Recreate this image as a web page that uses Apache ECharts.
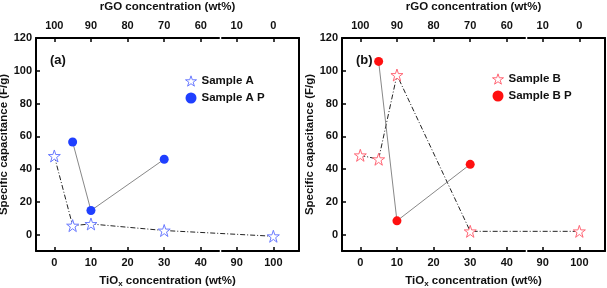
<!DOCTYPE html>
<html><head><meta charset="utf-8">
<script src="https://cdn.jsdelivr.net/npm/echarts@6/dist/echarts.min.js"></script>
<style>html,body{margin:0;padding:0;background:#fff}#c{width:607px;height:288px}</style>
</head><body><div id="c"></div>
<script>
// ---- data ----
const tiTicks = [0, 10, 20, 30, 40, 90, 100];
const rgoLabels = ['100', '90', '80', '70', '60', '10', '0'];
const yTicks = [0, 20, 40, 60, 80, 100, 120];

const xA = [0, 5, 10, 30, 100];
const sampleA = [48, 5.5, 6.5, 2.5, -1];
const xAP = [5, 10, 30];
const sampleAP = [56.5, 14.7, 46];

const xB = [0, 5, 10, 30, 100];
const sampleB = [48.4, 46, 97.4, 2, 2];
const xBP = [5, 10, 30];
const sampleBP = [105.7, 8.4, 42.9];

// ---- styles ----
const FONT = 'Liberation Sans, Arial, sans-serif';
const star = 'path://M50,0 L61.8,35.1 L98.9,35.1 L69.1,56.7 L80.3,91.9 L50,70 L19.7,91.9 L30.9,56.7 L1.1,35.1 L38.2,35.1 Z';
const blueStar = '#6b7bff', blueDot = '#1f3fff', redStar = '#ff6675', redDot = '#ff1010';
const pairs = (xs, ys) => xs.map((x, i) => [x, ys[i]]);

const breaks = [{ start: 45, end: 86, gap: 0.8 }];
const X_MIN = -5, X_MAX = 107, Y_MIN = -10, Y_MAX = 120;
const lbl = { fontFamily: FONT, fontWeight: 'bold', fontSize: 11, color: '#111' };
const lineS = { show: true, onZero: false, lineStyle: { color: '#000', width: 2 } };

function xAxes(gi) {
  return [
    { gridIndex: gi, type: 'value', position: 'bottom', min: X_MIN, max: X_MAX, breaks: breaks,
      breakArea: { itemStyle: { color: 'transparent', borderColor: 'transparent' } },
      axisLine: lineS, splitLine: { show: false },
      axisTick: { inside: true, length: 4, lineStyle: { color: '#000', width: 1.5 }, customValues: tiTicks },
      axisLabel: Object.assign({ margin: 6, customValues: tiTicks }, lbl),
      name: 'TiO{sub|x} concentration (wt%)', nameLocation: 'middle', nameGap: 23,
      nameTextStyle: { fontFamily: FONT, fontWeight: 'bold', fontSize: 11.5, color: '#111',
        rich: { sub: { fontFamily: FONT, fontWeight: 'bold', fontSize: 8, verticalAlign: 'bottom', padding: [6, 0, 0, 0] } } } },
    { gridIndex: gi, type: 'value', position: 'top', min: X_MIN, max: X_MAX, breaks: breaks,
      breakArea: { itemStyle: { color: 'transparent', borderColor: 'transparent' } },
      axisLine: lineS, splitLine: { show: false },
      axisTick: { inside: true, length: 4, lineStyle: { color: '#000', width: 1.5 }, customValues: tiTicks },
      axisLabel: Object.assign({ margin: 7, customValues: tiTicks,
        formatter: v => rgoLabels[tiTicks.indexOf(v)] }, lbl),
      name: 'rGO concentration (wt%)', nameLocation: 'middle', nameGap: 25,
      nameTextStyle: { fontFamily: FONT, fontWeight: 'bold', fontSize: 11.5, color: '#111' } }
  ];
}
function yAxes(gi) {
  return [
    { gridIndex: gi, type: 'value', position: 'left', min: Y_MIN, max: Y_MAX,
      axisLine: lineS, splitLine: { show: false },
      axisTick: { inside: true, length: 4, lineStyle: { color: '#000', width: 1.5 }, customValues: yTicks },
      axisLabel: Object.assign({ margin: 4, customValues: yTicks }, lbl),
      name: 'Specific capacitance (F/g)', nameLocation: 'middle', nameGap: 21,
      nameTextStyle: { fontFamily: FONT, fontWeight: 'bold', fontSize: 11.5, color: '#111' } },
    { gridIndex: gi, type: 'value', position: 'right', min: Y_MIN, max: Y_MAX,
      axisLine: lineS, splitLine: { show: false },
      axisTick: { show: false }, axisLabel: { show: false } }
  ];
}
function starSeries(name, data, xi, yi, col) {
  return { name, type: 'line', xAxisIndex: xi, yAxisIndex: yi, data, symbol: star, symbolSize: 12,
    itemStyle: { color: '#fff', borderColor: col, borderWidth: 1 },
    lineStyle: { color: '#222', width: 1, type: [5, 2, 1, 2] }, z: 3 };
}
function dotSeries(name, data, xi, yi, col) {
  return { name, type: 'line', xAxisIndex: xi, yAxisIndex: yi, data, symbol: 'circle', symbolSize: 9,
    itemStyle: { color: col, borderWidth: 0 },
    lineStyle: { color: '#888', width: 1 }, z: 4 };
}
function legend(left, top, names, cs, cd) {
  return { left, top, orient: 'vertical', itemWidth: 11, itemHeight: 11, itemGap: 5, padding: 0,
    textStyle: { fontFamily: FONT, fontWeight: 'bold', fontSize: 11.5, color: '#111' },
    data: [
      { name: names[0], icon: star, itemStyle: { color: '#fff', borderColor: cs, borderWidth: 1 } },
      { name: names[1], icon: 'circle', itemStyle: { color: cd, borderWidth: 0 } }
    ] };
}

const chart = echarts.init(document.getElementById('c'), null, { renderer: 'canvas' });
chart.setOption({
  animation: false,
  backgroundColor: '#fff',
  grid: [
    { left: 36, top: 38, width: 263, height: 213, outerBoundsMode: 'none', containLabel: false },
    { left: 342, top: 38, width: 263, height: 213, outerBoundsMode: 'none', containLabel: false }
  ],
  title: [
    { text: '(a)', left: 50, top: 54, padding: 0, textStyle: { fontFamily: FONT, fontWeight: 'bold', fontSize: 13, color: '#111' } },
    { text: '(b)', left: 356, top: 54, padding: 0, textStyle: { fontFamily: FONT, fontWeight: 'bold', fontSize: 13, color: '#111' } }
  ],
  legend: [
    legend(185, 75, ['Sample A', 'Sample A P'], blueStar, blueDot),
    legend(492, 73, ['Sample B', 'Sample B P'], redStar, redDot)
  ],
  xAxis: xAxes(0).concat(xAxes(1)),
  yAxis: yAxes(0).concat(yAxes(1)),
  series: [
    starSeries('Sample A', pairs(xA, sampleA), 0, 0, blueStar),
    dotSeries('Sample A P', pairs(xAP, sampleAP), 0, 0, blueDot),
    starSeries('Sample B', pairs(xB, sampleB), 2, 2, redStar),
    dotSeries('Sample B P', pairs(xBP, sampleBP), 2, 2, redDot)
  ]
});
</script></body></html>
